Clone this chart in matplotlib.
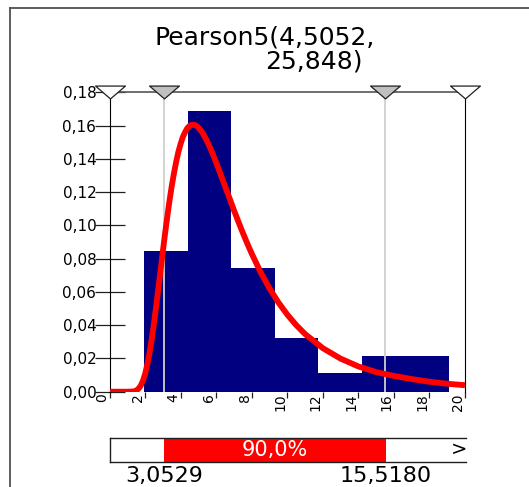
import matplotlib
matplotlib.use("Agg")
import matplotlib.pyplot as plt
from matplotlib.lines import Line2D
from matplotlib.path import Path

# histogram bins (left edge, width, density)
bin_left = [1.94, 4.39, 6.84, 9.29, 11.74, 14.19, 16.64]
bin_width = 2.45
bin_density = [0.0845, 0.1686, 0.0743, 0.0321, 0.0111, 0.0215, 0.0215]

# fitted curve points
curve_x = [0, 0.5, 1.0, 1.25, 1.375, 1.5, 1.625, 1.75, 1.875, 2.0, 2.125, 2.25, 2.375,
           2.5, 2.625, 2.75, 2.875, 3.0, 3.125, 3.25, 3.375, 3.5, 3.625, 3.75, 3.875,
           4.0, 4.125, 4.25, 4.375, 4.5, 4.625, 4.75, 4.875, 5.0, 5.25, 5.5, 5.75,
           6.0, 6.25, 6.5, 6.75, 7.0, 7.25, 7.5, 7.75, 8.0, 8.5, 9.0, 9.5, 10, 10.5,
           11, 12, 13, 14, 15, 16, 17, 18, 19, 20]
curve_y = [0, 0, 0, 0.0001, 0.0002, 0.0007, 0.0017, 0.0035, 0.0064, 0.0106, 0.0162,
           0.0233, 0.0316, 0.0411, 0.0514, 0.0622, 0.0732, 0.0843, 0.0951, 0.1053,
           0.1148, 0.1236, 0.1313, 0.1382, 0.1443, 0.1491, 0.1532, 0.1561, 0.1585,
           0.1599, 0.1606, 0.1606, 0.1601, 0.1590, 0.1555, 0.1505, 0.1446, 0.1379,
           0.1308, 0.1236, 0.1165, 0.1092, 0.1023, 0.0956, 0.0892, 0.0831, 0.0719,
           0.0622, 0.0537, 0.0464, 0.0401, 0.0347, 0.0262, 0.0199, 0.0152, 0.0118,
           0.0095, 0.0076, 0.0060, 0.0048, 0.0039]

title_line1 = "Pearson5(4,5052,"
title_line2 = "25,848)"
x_ticks = [0, 2, 4, 6, 8, 10, 12, 14, 16, 18, 20]
y_ticks = [0.00, 0.02, 0.04, 0.06, 0.08, 0.10, 0.12, 0.14, 0.16, 0.18]
left_mark = 3.0529
right_mark = 15.518
left_label = "3,0529"
right_label = "15,5180"
middle_label = "90,0%"

plt.rcParams['font.family'] = ['DejaVu Sans']

W, H = 529, 487
fig = plt.figure(figsize=(W / 100, H / 100), dpi=100)

# main plot area in pixel coords of the reference
ax = fig.add_axes([109.5 / W, 1 - 391.7 / H, (465 - 109.5) / W, (391.7 - 92.5) / H])
ax.bar(bin_left, bin_density, width=bin_width, align='edge', color='#000080',
       linewidth=0, zorder=2)
for m in (left_mark, right_mark):
    ax.axvline(m, color='#d0d0d0', lw=1.3, zorder=2.5)
ax.plot(curve_x, curve_y, color='#ff0000', lw=4.2, zorder=3, solid_capstyle='butt',
        solid_joinstyle='round')

ax.set_xlim(0, 20)
ax.set_ylim(0, 0.18)
ax.set_xticks(x_ticks)
ax.set_xticklabels([str(t) for t in x_ticks], rotation=90, ha='right', fontsize=10)
ax.set_yticks(y_ticks)
ax.set_yticklabels([("%.2f" % t).replace('.', ',') for t in y_ticks], fontsize=11)
ax.tick_params(axis='y', direction='inout', length=21, width=0.9, color='#202020', pad=-1)
ax.tick_params(axis='x', direction='out', length=4, width=0.9, color='#202020', pad=-3)

ax.spines['bottom'].set_visible(False)
ax.spines['top'].set_color('#555555')
ax.spines['top'].set_linewidth(1.2)
ax.spines['left'].set_color('black')
ax.spines['right'].set_color('black')

# flat down-pointing triangles on the top edge
tri = Path([(-1, 0.43), (1, 0.43), (0, -0.43), (-1, 0.43)],
           [Path.MOVETO, Path.LINETO, Path.LINETO, Path.CLOSEPOLY])
ax.plot([0, 20], [0.18, 0.18], ls='none', marker=tri, ms=21.5, mfc='white',
        mec='#202020', mew=0.9, clip_on=False, zorder=5)
ax.plot([left_mark, right_mark], [0.18, 0.18], ls='none', marker=tri, ms=21.5,
        mfc='#c0c0c0', mec='#202020', mew=0.9, clip_on=False, zorder=5)

# title, two lines as in the reference
fig.text(265 / W, 1 - 37 / H, title_line1, ha='center', va='center', fontsize=18)
fig.text(314 / W, 1 - 62 / H, title_line2, ha='center', va='center', fontsize=18)

# probability strip under the chart
bx = fig.add_axes([109.5 / W, 1 - 461.7 / H, (466 - 109.5) / W, 24 / H])
bx.set_xlim(0, 20)
bx.set_ylim(0, 1)
bx.axvspan(left_mark, right_mark, color='#ff0000', lw=0)
bx.set_xticks([])
bx.set_yticks([])
bx.spines['right'].set_visible(False)
for s in ('left', 'top', 'bottom'):
    bx.spines[s].set_color('#202020')
    bx.spines[s].set_linewidth(1.0)
bx.text((left_mark + right_mark) / 2, 0.5, middle_label, color='white', ha='center',
        va='center', fontsize=15)
bx.text(19.6, 0.5, ">", ha='center', va='center', fontsize=14)
bx.text(left_mark, -0.58, left_label, ha='center', va='center', fontsize=16, clip_on=False)
bx.text(right_mark, -0.58, right_label, ha='center', va='center', fontsize=16, clip_on=False)

# outer frame: top and left edges only
fig.add_artist(Line2D([10 / W, 1], [1 - 8 / H, 1 - 8 / H], color='#505050', lw=1.3))
fig.add_artist(Line2D([10 / W, 10 / W], [1 - 8 / H, 0], color='#505050', lw=1.3))

fig.savefig("out.png", dpi=100)
